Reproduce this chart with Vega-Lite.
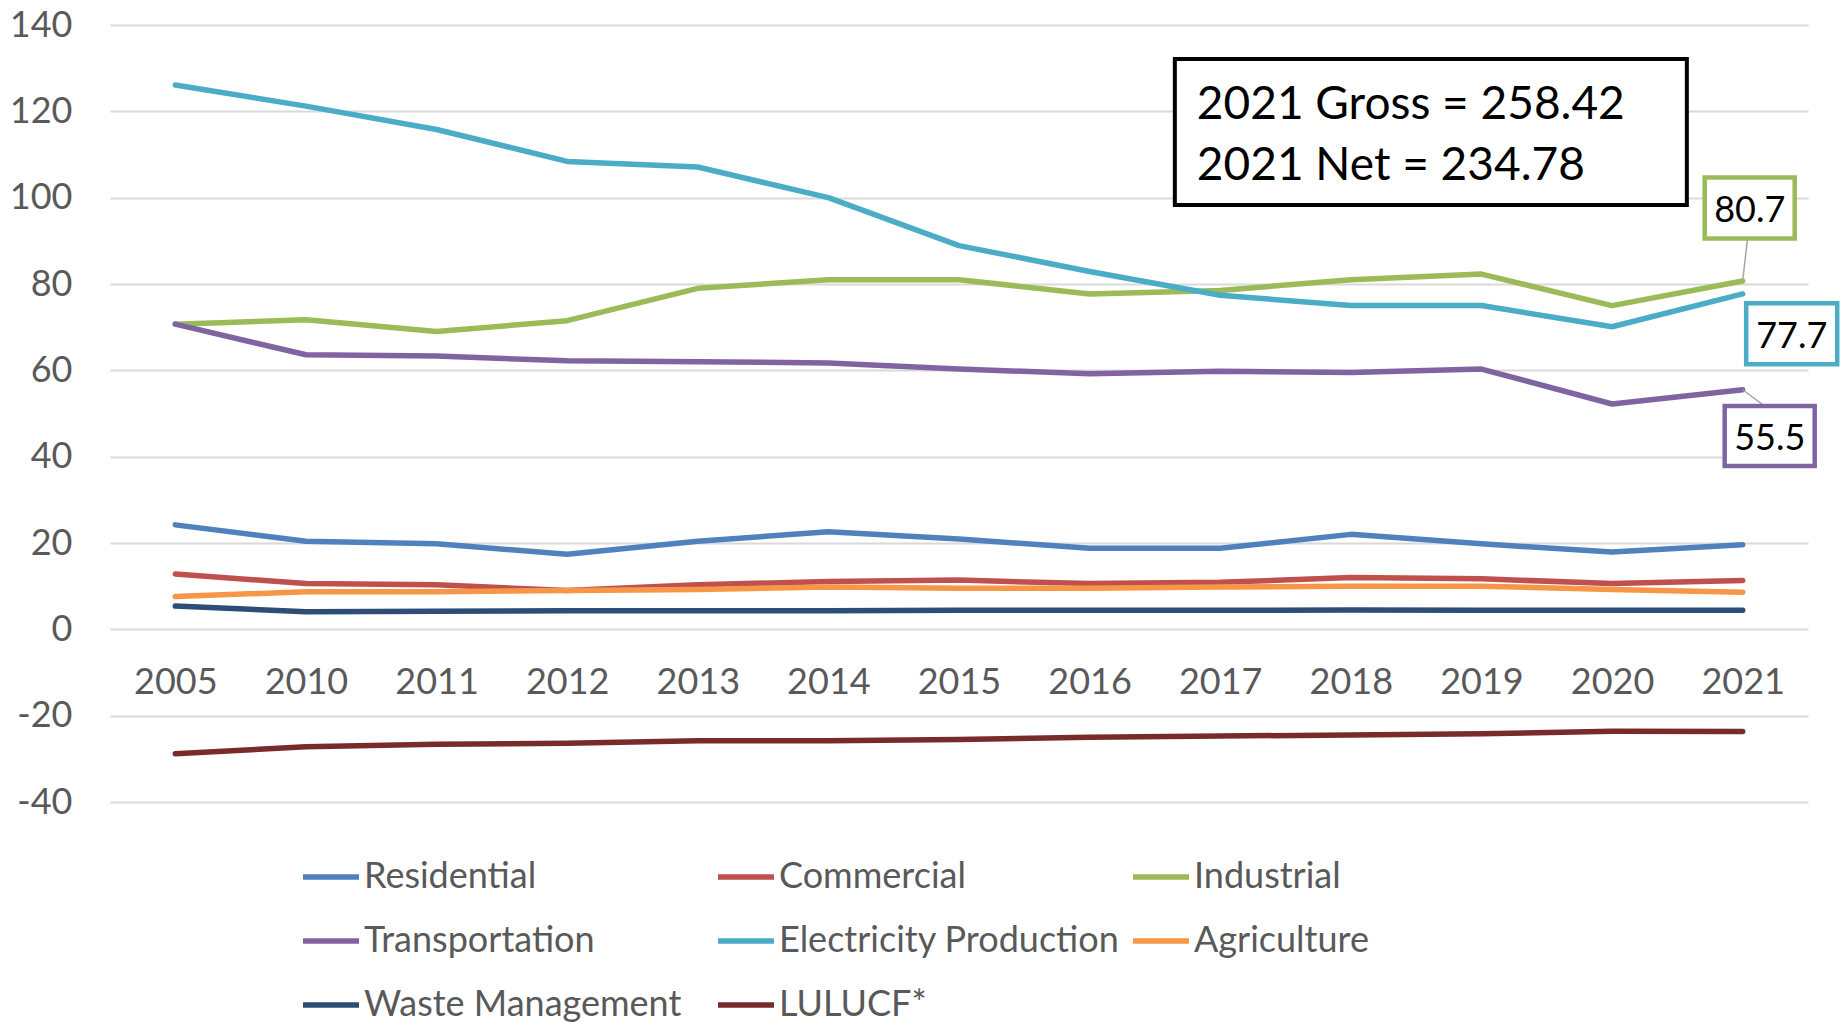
{
  "$schema": "https://vega.github.io/schema/vega-lite/v6.json",
  "width": 1698,
  "height": 777,
  "autosize": {"type": "none"},
  "padding": {"left": 110, "top": 25, "right": 33, "bottom": 220},
  "background": "white",
  "config": {"font": "Lato", "view": {"stroke": null}},
  "datasets": {
    "emissions": [
      {"series": "Residential", "year": "2005", "value": 24.2},
      {"series": "Residential", "year": "2010", "value": 20.4},
      {"series": "Residential", "year": "2011", "value": 19.8},
      {"series": "Residential", "year": "2012", "value": 17.4},
      {"series": "Residential", "year": "2013", "value": 20.4},
      {"series": "Residential", "year": "2014", "value": 22.6},
      {"series": "Residential", "year": "2015", "value": 20.9},
      {"series": "Residential", "year": "2016", "value": 18.8},
      {"series": "Residential", "year": "2017", "value": 18.8},
      {"series": "Residential", "year": "2018", "value": 22.0},
      {"series": "Residential", "year": "2019", "value": 19.8},
      {"series": "Residential", "year": "2020", "value": 17.9},
      {"series": "Residential", "year": "2021", "value": 19.6},
      {"series": "Commercial", "year": "2005", "value": 12.8},
      {"series": "Commercial", "year": "2010", "value": 10.6},
      {"series": "Commercial", "year": "2011", "value": 10.3},
      {"series": "Commercial", "year": "2012", "value": 9.0},
      {"series": "Commercial", "year": "2013", "value": 10.3},
      {"series": "Commercial", "year": "2014", "value": 11.1},
      {"series": "Commercial", "year": "2015", "value": 11.4},
      {"series": "Commercial", "year": "2016", "value": 10.6},
      {"series": "Commercial", "year": "2017", "value": 10.9},
      {"series": "Commercial", "year": "2018", "value": 12.0},
      {"series": "Commercial", "year": "2019", "value": 11.7},
      {"series": "Commercial", "year": "2020", "value": 10.6},
      {"series": "Commercial", "year": "2021", "value": 11.3},
      {"series": "Industrial", "year": "2005", "value": 70.7},
      {"series": "Industrial", "year": "2010", "value": 71.7},
      {"series": "Industrial", "year": "2011", "value": 69.0},
      {"series": "Industrial", "year": "2012", "value": 71.5},
      {"series": "Industrial", "year": "2013", "value": 79.0},
      {"series": "Industrial", "year": "2014", "value": 81.0},
      {"series": "Industrial", "year": "2015", "value": 81.0},
      {"series": "Industrial", "year": "2016", "value": 77.7},
      {"series": "Industrial", "year": "2017", "value": 78.5},
      {"series": "Industrial", "year": "2018", "value": 81.0},
      {"series": "Industrial", "year": "2019", "value": 82.3},
      {"series": "Industrial", "year": "2020", "value": 75.0},
      {"series": "Industrial", "year": "2021", "value": 80.7},
      {"series": "Transportation", "year": "2005", "value": 70.7},
      {"series": "Transportation", "year": "2010", "value": 63.6},
      {"series": "Transportation", "year": "2011", "value": 63.3},
      {"series": "Transportation", "year": "2012", "value": 62.2},
      {"series": "Transportation", "year": "2013", "value": 62.0},
      {"series": "Transportation", "year": "2014", "value": 61.7},
      {"series": "Transportation", "year": "2015", "value": 60.3},
      {"series": "Transportation", "year": "2016", "value": 59.2},
      {"series": "Transportation", "year": "2017", "value": 59.8},
      {"series": "Transportation", "year": "2018", "value": 59.5},
      {"series": "Transportation", "year": "2019", "value": 60.3},
      {"series": "Transportation", "year": "2020", "value": 52.2},
      {"series": "Transportation", "year": "2021", "value": 55.5},
      {"series": "Electricity Production", "year": "2005", "value": 126.1},
      {"series": "Electricity Production", "year": "2010", "value": 121.2},
      {"series": "Electricity Production", "year": "2011", "value": 115.8},
      {"series": "Electricity Production", "year": "2012", "value": 108.4},
      {"series": "Electricity Production", "year": "2013", "value": 107.1},
      {"series": "Electricity Production", "year": "2014", "value": 100.0},
      {"series": "Electricity Production", "year": "2015", "value": 88.9},
      {"series": "Electricity Production", "year": "2016", "value": 82.9},
      {"series": "Electricity Production", "year": "2017", "value": 77.4},
      {"series": "Electricity Production", "year": "2018", "value": 75.0},
      {"series": "Electricity Production", "year": "2019", "value": 75.0},
      {"series": "Electricity Production", "year": "2020", "value": 70.1},
      {"series": "Electricity Production", "year": "2021", "value": 77.7},
      {"series": "Agriculture", "year": "2005", "value": 7.6},
      {"series": "Agriculture", "year": "2010", "value": 8.7},
      {"series": "Agriculture", "year": "2011", "value": 8.7},
      {"series": "Agriculture", "year": "2012", "value": 9.0},
      {"series": "Agriculture", "year": "2013", "value": 9.2},
      {"series": "Agriculture", "year": "2014", "value": 9.8},
      {"series": "Agriculture", "year": "2015", "value": 9.5},
      {"series": "Agriculture", "year": "2016", "value": 9.5},
      {"series": "Agriculture", "year": "2017", "value": 9.8},
      {"series": "Agriculture", "year": "2018", "value": 10.0},
      {"series": "Agriculture", "year": "2019", "value": 10.0},
      {"series": "Agriculture", "year": "2020", "value": 9.2},
      {"series": "Agriculture", "year": "2021", "value": 8.6},
      {"series": "Waste Management", "year": "2005", "value": 5.4},
      {"series": "Waste Management", "year": "2010", "value": 4.1},
      {"series": "Waste Management", "year": "2011", "value": 4.2},
      {"series": "Waste Management", "year": "2012", "value": 4.3},
      {"series": "Waste Management", "year": "2013", "value": 4.3},
      {"series": "Waste Management", "year": "2014", "value": 4.3},
      {"series": "Waste Management", "year": "2015", "value": 4.4},
      {"series": "Waste Management", "year": "2016", "value": 4.4},
      {"series": "Waste Management", "year": "2017", "value": 4.4},
      {"series": "Waste Management", "year": "2018", "value": 4.5},
      {"series": "Waste Management", "year": "2019", "value": 4.4},
      {"series": "Waste Management", "year": "2020", "value": 4.4},
      {"series": "Waste Management", "year": "2021", "value": 4.4},
      {"series": "LULUCF*", "year": "2005", "value": -28.8},
      {"series": "LULUCF*", "year": "2010", "value": -27.2},
      {"series": "LULUCF*", "year": "2011", "value": -26.6},
      {"series": "LULUCF*", "year": "2012", "value": -26.4},
      {"series": "LULUCF*", "year": "2013", "value": -25.8},
      {"series": "LULUCF*", "year": "2014", "value": -25.8},
      {"series": "LULUCF*", "year": "2015", "value": -25.5},
      {"series": "LULUCF*", "year": "2016", "value": -25.0},
      {"series": "LULUCF*", "year": "2017", "value": -24.7},
      {"series": "LULUCF*", "year": "2018", "value": -24.5},
      {"series": "LULUCF*", "year": "2019", "value": -24.2},
      {"series": "LULUCF*", "year": "2020", "value": -23.6},
      {"series": "LULUCF*", "year": "2021", "value": -23.64}
    ]
  },
  "data": {"name": "emissions"},
  "layer": [
    {
      "mark": {"type": "line", "strokeWidth": 5.5, "strokeCap": "round", "strokeJoin": "round"},
      "encoding": {
        "x": {
          "field": "year", "type": "ordinal",
          "scale": {"type": "point", "padding": 0.5},
          "axis": {"title": null, "orient": "bottom", "offset": -172.7, "domain": false, "ticks": false, "grid": false, "labelPadding": 36, "labelFontSize": 36, "labelColor": "#595959", "labelAngle": 0}
        },
        "y": {
          "field": "value", "type": "quantitative",
          "scale": {"domain": [-40, 140], "nice": false, "zero": false},
          "axis": {"title": null, "values": [-40, -20, 0, 20, 40, 60, 80, 100, 120, 140], "labelExpr": "'' + datum.value", "domain": false, "ticks": false, "grid": true, "gridColor": "#D9D9D9", "gridWidth": 2, "labelPadding": 38, "labelFontSize": 36, "labelColor": "#595959"}
        },
        "color": {
          "field": "series", "type": "nominal",
          "scale": {
            "domain": ["Residential", "Commercial", "Industrial", "Transportation", "Electricity Production", "Agriculture", "Waste Management", "LULUCF*"],
            "range": ["#4F81BD", "#C0504D", "#9BBB59", "#8064A2", "#4BACC6", "#F79646", "#2C4D75", "#772C2A"]
          },
          "legend": {"title": null, "orient": "none", "legendX": 190, "legendY": 821, "columns": 3, "direction": "horizontal", "symbolType": "stroke", "symbolSize": 3136, "symbolStrokeWidth": 5.5, "labelFontSize": 36, "labelColor": "#595959", "labelOffset": 2, "rowPadding": 15, "columnPadding": 2, "gridAlign": "all", "labelLimit": 600}
        }
      }
    },
    {
      "transform": [{"filter": "datum.series == 'Industrial' && datum.year == '2021'"}],
      "mark": {"type": "rule", "color": "#A6A6A6", "strokeWidth": 1.5, "x2Offset": 5},
      "encoding": {
        "x": {"field": "year", "type": "ordinal"},
        "x2": {"field": "year"},
        "y": {"field": "value", "type": "quantitative"},
        "y2": {"datum": 90.9}
      }
    },
    {
      "transform": [{"filter": "datum.series == 'Transportation' && datum.year == '2021'"}],
      "mark": {"type": "rule", "color": "#A6A6A6", "strokeWidth": 1.5, "x2Offset": 22},
      "encoding": {
        "x": {"field": "year", "type": "ordinal"},
        "x2": {"field": "year"},
        "y": {"field": "value", "type": "quantitative"},
        "y2": {"datum": 51.7}
      }
    },
    {
      "data": {"values": [{}]},
      "mark": {"type": "point", "shape": "M-1,-0.285L1,-0.285L1,0.285L-1,0.285Z", "size": 262144, "filled": true, "fill": "white", "stroke": "black", "strokeWidth": 4, "opacity": 1, "xOffset": 80},
      "encoding": {"x": {"datum": "2018", "type": "ordinal"}, "y": {"datum": 115.2, "type": "quantitative"}}
    },
    {
      "data": {"values": [{}]},
      "mark": {"type": "text", "text": "2021 Gross = 258.42", "fontSize": 46, "align": "left", "baseline": "middle", "color": "black", "xOffset": -154},
      "encoding": {"x": {"datum": "2018", "type": "ordinal"}, "y": {"datum": 121.4, "type": "quantitative"}}
    },
    {
      "data": {"values": [{}]},
      "mark": {"type": "text", "text": "2021 Net = 234.78", "fontSize": 46, "align": "left", "baseline": "middle", "color": "black", "xOffset": -154},
      "encoding": {"x": {"datum": "2018", "type": "ordinal"}, "y": {"datum": 107.3, "type": "quantitative"}}
    },
    {
      "transform": [{"filter": "datum.series == 'Industrial' && datum.year == '2021'"}],
      "mark": {"type": "point", "shape": "M-1,-0.678L1,-0.678L1,0.678L-1,0.678Z", "size": 8100, "filled": true, "fill": "white", "stroke": "#9BBB59", "strokeWidth": 4.5, "opacity": 1, "xOffset": 7},
      "encoding": {"x": {"field": "year", "type": "ordinal"}, "y": {"datum": 97.6, "type": "quantitative"}}
    },
    {
      "transform": [{"filter": "datum.series == 'Industrial' && datum.year == '2021'"}],
      "mark": {"type": "text", "fontSize": 36, "align": "center", "baseline": "middle", "color": "black", "xOffset": 7, "yOffset": 3},
      "encoding": {"x": {"field": "year", "type": "ordinal"}, "y": {"datum": 97.6, "type": "quantitative"}, "text": {"field": "value", "type": "quantitative", "format": ".1f"}}
    },
    {
      "transform": [{"filter": "datum.series == 'Electricity Production' && datum.year == '2021'"}],
      "mark": {"type": "point", "shape": "M-1,-0.67L1,-0.67L1,0.67L-1,0.67Z", "size": 8281, "filled": true, "fill": "white", "stroke": "#4BACC6", "strokeWidth": 4.5, "opacity": 1, "xOffset": 49},
      "encoding": {"x": {"field": "year", "type": "ordinal"}, "y": {"datum": 68.5, "type": "quantitative"}}
    },
    {
      "transform": [{"filter": "datum.series == 'Electricity Production' && datum.year == '2021'"}],
      "mark": {"type": "text", "fontSize": 36, "align": "center", "baseline": "middle", "color": "black", "xOffset": 49, "yOffset": 3},
      "encoding": {"x": {"field": "year", "type": "ordinal"}, "y": {"datum": 68.5, "type": "quantitative"}, "text": {"field": "value", "type": "quantitative", "format": ".1f"}}
    },
    {
      "transform": [{"filter": "datum.series == 'Transportation' && datum.year == '2021'"}],
      "mark": {"type": "point", "shape": "M-1,-0.667L1,-0.667L1,0.667L-1,0.667Z", "size": 8100, "filled": true, "fill": "white", "stroke": "#8064A2", "strokeWidth": 4.5, "opacity": 1, "xOffset": 27},
      "encoding": {"x": {"field": "year", "type": "ordinal"}, "y": {"datum": 44.8, "type": "quantitative"}}
    },
    {
      "transform": [{"filter": "datum.series == 'Transportation' && datum.year == '2021'"}],
      "mark": {"type": "text", "fontSize": 36, "align": "center", "baseline": "middle", "color": "black", "xOffset": 27, "yOffset": 3},
      "encoding": {"x": {"field": "year", "type": "ordinal"}, "y": {"datum": 44.8, "type": "quantitative"}, "text": {"field": "value", "type": "quantitative", "format": ".1f"}}
    }
  ]
}
